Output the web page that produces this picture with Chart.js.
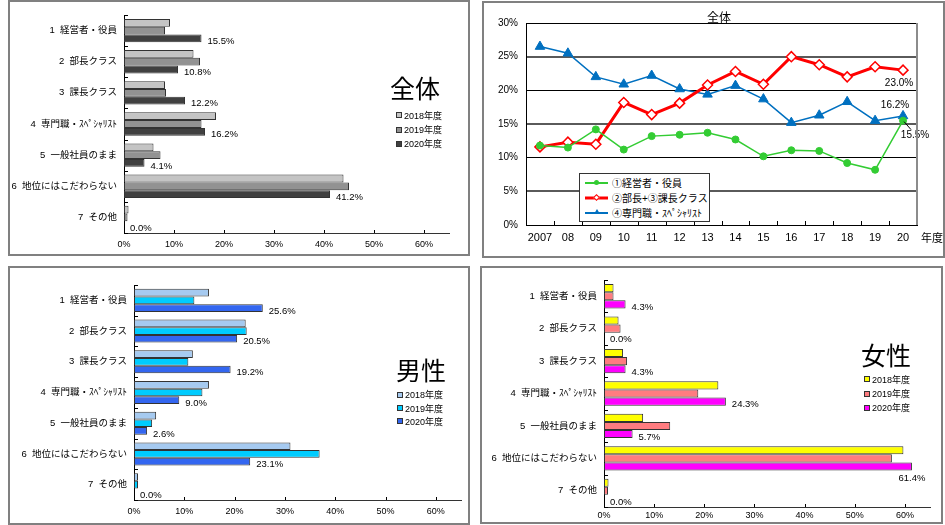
<!DOCTYPE html>
<html lang="ja">
<head>
<meta charset="utf-8">
<title>希望する地位</title>
<script src="https://cdn.jsdelivr.net/npm/chart.js@4/dist/chart.umd.min.js"></script>
<style>
  body { margin: 0; width: 945px; height: 525px; position: relative; overflow: hidden; background: #fff;
         font-family: 'Liberation Sans', 'Noto Sans CJK JP', sans-serif; color: #000; }
  canvas { position: absolute; }
  .panel { position: absolute; border: 2px solid #808080; box-sizing: border-box; }
  .big { position: absolute; font-family: 'Noto Sans CJK JP', sans-serif; font-size: 25px; line-height: 26px; }
  .legend { position: absolute; font-size: 9px; white-space: nowrap; }
  .legend div { display: flex; align-items: center; }
  .legend i { display: inline-block; width: 4px; height: 4px; border: 1px solid #333; margin-right: 2px; }
  .lineTitle { position: absolute; font-family: 'Noto Sans CJK JP', sans-serif; font-size: 12px; line-height: 14px; }
  .lineLegend { position: absolute; left: 579px; top: 173px; width: 131px; height: 49px; box-sizing: border-box;
                border: 1px solid #333; background: #fff; font-size: 10px; padding-top: 1px; white-space: nowrap; }
  .lineLegend div { height: 15px; display: flex; align-items: center; }
  .sample { position: relative; display: inline-block; width: 23px; height: 3px; margin: 0 4px 0 5px; }
  .sample b { position: absolute; left: 0; right: 0; top: 50%; transform: translateY(-50%); }
  .sample em { position: absolute; left: 50%; top: 50%; }
</style>
</head>
<body>
<div class="panel" style="left:8px;top:0;width:462px;height:256px"></div>
<div class="panel" style="left:482px;top:1px;width:463px;height:257px"></div>
<div class="panel" style="left:8px;top:266px;width:462px;height:259px"></div>
<div class="panel" style="left:480px;top:266px;width:463px;height:258px"></div>

<canvas id="allChart" width="470" height="258" style="left:0;top:0"></canvas>
<canvas id="trendChart" width="463" height="258" style="left:482px;top:0"></canvas>
<canvas id="menChart" width="470" height="263" style="left:0;top:262px"></canvas>
<canvas id="womenChart" width="470" height="263" style="left:475px;top:262px"></canvas>

<div class="big" style="left:390px;top:74px">全体</div>
<div class="big" style="left:396px;top:356px">男性</div>
<div class="big" style="left:861px;top:341px">女性</div>
<div class="legend" id="allLegend" style="left:396px;top:108px"></div>
<div class="legend" id="menLegend" style="left:397px;top:388px"></div>
<div class="legend" id="womenLegend" style="left:864px;top:372px"></div>

<div class="lineTitle" style="left:707px;top:10px">全体</div>
<div class="lineTitle" style="left:921px;top:230px;font-size:11px">年度</div>
<div class="lineLegend" id="trendLegend"></div>

<script>
const categories = ['1  経営者・役員', '2  部長クラス', '3  課長クラス', '4  専門職・ｽﾍﾟｼｬﾘｽﾄ',
                    '5  一般社員のまま', '6  地位にはこだわらない', '7  その他'];
const fiscalYears = ['2018年度', '2019年度', '2020年度'];

const allValues2018 = [9.2, 13.9, 8.2, 18.4, 5.9, 43.9, 0.9];
const allValues2019 = [8.2, 15.2, 8.4, 15.5, 7.3, 45.0, 0.7];
const allValues2020 = [15.5, 10.8, 12.2, 16.2, 4.1, 41.2, 0.0];

const menValues2018 = [14.9, 22.2, 11.7, 14.9, 4.4, 31.1, 0.8];
const menValues2019 = [12.0, 22.4, 10.8, 13.6, 3.6, 36.9, 0.8];
const menValues2020 = [25.6, 20.5, 19.2, 9.0, 2.6, 23.1, 0.0];

const womenValues2018 = [1.9, 2.9, 3.8, 22.8, 7.8, 59.7, 0.9];
const womenValues2019 = [1.9, 3.3, 4.6, 18.8, 13.2, 57.4, 0.8];
const womenValues2020 = [4.3, 0.0, 4.3, 24.3, 5.7, 61.4, 0.0];

const trendYears = ['2007', '08', '09', '10', '11', '12', '13', '14', '15', '16', '17', '18', '19', '20'];
const trendNames = ['①経営者・役員', '②部長+③課長クラス', '④専門職・ｽﾍﾟｼｬﾘｽﾄ'];
const execTrend = [11.8, 11.5, 14.2, 11.2, 13.2, 13.4, 13.7, 12.7, 10.2, 11.1, 11.0, 9.2, 8.2, 15.5];
const managerTrend = [11.6, 12.3, 12.0, 18.2, 16.4, 18.1, 20.8, 22.8, 20.9, 25.0, 23.8, 22.0, 23.5, 23.0];
const specialistTrend = [26.5, 25.5, 22.0, 20.9, 22.2, 20.2, 19.4, 20.7, 18.7, 15.2, 16.3, 18.3, 15.5, 16.2];

const grayColors = ['#c4c4c4', '#929292', '#404040'];
const blueColors = ['#a6caf0', '#00ccff', '#3366f0'];
const pinkColors = ['#ffff00', '#ff7c80', '#ff00ff'];

const fontFamily = "'Liberation Sans', 'Noto Sans CJK JP', sans-serif";
Chart.defaults.font.family = fontFamily;
Chart.defaults.color = '#000';
Chart.defaults.animation = false;

// short tick marks drawn on the inside of the axes
const innerTicks = {
  id: 'innerTicks',
  afterDraw(chart, args, opts) {
    const ctx = chart.ctx;
    ctx.save();
    ctx.strokeStyle = '#000';
    ctx.lineWidth = 1;
    ctx.beginPath();
    if (opts.categoryAxis) {
      const s = chart.scales[opts.categoryAxis];
      const n = s.getLabels().length;
      for (let i = 0; i <= n; i++) {
        if (s.isHorizontal()) {
          const x = Math.round(s.left + i * s.width / n) + 0.5;
          ctx.moveTo(x, s.top); ctx.lineTo(x, s.top - 4);
        } else {
          const y = Math.round(s.top + i * s.height / n) + 0.5;
          ctx.moveTo(s.right, y); ctx.lineTo(s.right + 4, y);
        }
      }
    }
    if (opts.valueAxis) {
      const s = chart.scales[opts.valueAxis];
      s.ticks.forEach(t => {
        const x = Math.round(s.getPixelForValue(t.value)) + 0.5;
        ctx.moveTo(x, s.top); ctx.lineTo(x, s.top - 3);
      });
    }
    ctx.stroke();
    ctx.restore();
  }
};

// value labels for the last (2020) series
const lastValueLabels = {
  id: 'lastValueLabels',
  afterDatasetsDraw(chart) {
    const ctx = chart.ctx;
    const idx = chart.data.datasets.length - 1;
    const meta = chart.getDatasetMeta(idx);
    const data = chart.data.datasets[idx].data;
    ctx.save();
    ctx.font = '9.5px ' + fontFamily;
    ctx.fillStyle = '#000';
    ctx.textBaseline = 'middle';
    meta.data.forEach((bar, i) => {
      const text = data[i].toFixed(1) + '%';
      const w = ctx.measureText(text).width;
      if (bar.x + 6 + w > chart.chartArea.right) {
        ctx.textAlign = 'center';
        ctx.fillText(text, bar.x, bar.y + bar.height / 2 + 8);
      } else {
        ctx.textAlign = 'left';
        ctx.fillText(text, bar.x + 6, bar.y + 3);
      }
    });
    ctx.restore();
  }
};

function makeBarChart(id, series, colors, area) {
  const canvas = document.getElementById(id);
  return new Chart(canvas, {
    type: 'bar',
    data: {
      labels: categories,
      datasets: series.map((values, i) => ({
        label: fiscalYears[i],
        data: values,
        backgroundColor: colors[i],
        borderColor: '#333',
        borderWidth: ctx => (ctx.raw === 0 ? 0 : 1),
        borderSkipped: false,
        categoryPercentage: 0.75,
        barPercentage: 1
      }))
    },
    options: {
      indexAxis: 'y',
      responsive: false,
      layout: { padding: { left: 0, top: area.top, right: canvas.width - area.right, bottom: 0 } },
      plugins: {
        legend: { display: false },
        tooltip: { enabled: false },
        innerTicks: { categoryAxis: 'y', valueAxis: 'x' }
      },
      scales: {
        x: {
          min: 0,
          max: 65,
          ticks: { stepSize: 10, padding: area.xPad, font: { size: 9 }, callback: v => v + '%' },
          afterBuildTicks: s => { s.ticks = s.ticks.filter(t => t.value % 10 === 0); },
          grid: { display: false, drawTicks: false },
          border: { display: true, color: '#333', width: 1 },
          afterFit: s => { s.height = canvas.height - area.bottom; }
        },
        y: {
          ticks: { padding: 7, font: { size: 9.5 } },
          grid: { display: false, drawTicks: false },
          border: { display: true, color: '#000', width: 1 },
          afterFit: s => { s.width = area.left; }
        }
      }
    },
    plugins: [innerTicks, lastValueLabels]
  });
}

function fillLegend(id, colors) {
  const box = document.getElementById(id);
  fiscalYears.forEach((name, i) => {
    const row = document.createElement('div');
    row.style.height = (id === 'menLegend' ? 13.4 : 14.4) + 'px';
    row.innerHTML = '<i style="background:' + colors[i] + '"></i>' + name;
    box.appendChild(row);
  });
}

makeBarChart('allChart', [allValues2018, allValues2019, allValues2020], grayColors,
  { left: 124, right: 449, top: 15, bottom: 233, xPad: 6 });
makeBarChart('menChart', [menValues2018, menValues2019, menValues2020], blueColors,
  { left: 134, right: 461, top: 23, bottom: 238, xPad: 6 });
makeBarChart('womenChart', [womenValues2018, womenValues2019, womenValues2020], pinkColors,
  { left: 129, right: 455, top: 18, bottom: 245, xPad: 3 });
fillLegend('allLegend', grayColors);
fillLegend('menLegend', blueColors);
fillLegend('womenLegend', pinkColors);

// ---- trend line chart ----
const trendArea = { left: 44, right: 435, top: 23, bottom: 225 };

const plotFrame = {
  id: 'plotFrame',
  afterDraw(chart) {
    const { ctx, chartArea: a } = chart;
    ctx.save();
    ctx.strokeStyle = '#8c8c8c';
    ctx.lineWidth = 2;
    ctx.beginPath();
    ctx.moveTo(a.right, a.top);
    ctx.lineTo(a.right, a.bottom);
    ctx.stroke();
    ctx.restore();
  }
};

const endLabels = {
  id: 'endLabels',
  afterDatasetsDraw(chart) {
    const ctx = chart.ctx;
    ctx.save();
    ctx.font = '10px ' + fontFamily;
    ctx.fillStyle = '#000';
    ctx.textAlign = 'center';
    ctx.textBaseline = 'middle';
    chart.data.datasets.forEach((ds, i) => {
      const meta = chart.getDatasetMeta(i);
      const pt = meta.data[meta.data.length - 1];
      const v = ds.data[ds.data.length - 1];
      const tx = pt.x + ds.endLabelOffset[0];
      const ty = pt.y + ds.endLabelOffset[1];
      if (ds.endLabelLeader) {
        ctx.strokeStyle = '#000';
        ctx.lineWidth = 1;
        ctx.beginPath();
        ctx.moveTo(pt.x + 1, pt.y + 1);
        ctx.lineTo(tx - 4, ty - 6);
        ctx.stroke();
      }
      ctx.fillText(v.toFixed(1) + '%', tx, ty);
    });
    ctx.restore();
  }
};

const trendCanvas = document.getElementById('trendChart');
new Chart(trendCanvas, {
  type: 'line',
  data: {
    labels: trendYears,
    datasets: [
      {
        label: trendNames[0], data: execTrend,
        borderColor: '#33cc33', backgroundColor: '#33cc33', borderWidth: 1.5,
        pointStyle: 'circle', pointRadius: 3.5, pointBorderWidth: 1,
        endLabelOffset: [12, 15], endLabelLeader: true
      },
      {
        label: trendNames[1], data: managerTrend,
        borderColor: '#ff0000', backgroundColor: '#ffffff', borderWidth: 3,
        pointStyle: 'rectRot', pointRadius: 5, pointBorderWidth: 1.5,
        endLabelOffset: [-4, 13]
      },
      {
        label: trendNames[2], data: specialistTrend,
        borderColor: '#0070c0', backgroundColor: '#0070c0', borderWidth: 1.5,
        pointStyle: 'triangle', pointRadius: 5.5, pointBorderWidth: 1,
        endLabelOffset: [-8, -11]
      }
    ]
  },
  options: {
    responsive: false,
    layout: { padding: { left: 0, top: trendArea.top, right: trendCanvas.width - trendArea.right, bottom: 0 } },
    elements: { line: { tension: 0 } },
    plugins: {
      legend: { display: false },
      tooltip: { enabled: false },
      innerTicks: { categoryAxis: 'x' }
    },
    scales: {
      x: {
        offset: true,
        ticks: { padding: 6, font: { size: 11 }, maxRotation: 0, minRotation: 0, autoSkip: false },
        grid: { display: false, drawTicks: false },
        border: { display: true, color: '#000', width: 1 },
        afterFit: s => { s.height = trendCanvas.height - trendArea.bottom; }
      },
      y: {
        min: 0,
        max: 30,
        ticks: { stepSize: 5, padding: 8, font: { size: 10 }, callback: v => v + '%' },
        grid: {
          drawTicks: false,
          color: ctx => (ctx.tick.value % 10 === 0 ? '#000' : '#5a5a5a'),
          lineWidth: ctx => (ctx.tick.value % 10 === 0 ? 1 : 2)
        },
        border: { display: true, color: '#000', width: 1 },
        afterFit: s => { s.width = trendArea.left; }
      }
    }
  },
  plugins: [innerTicks, plotFrame, endLabels]
});

// legend of the trend chart
const trendStyles = [
  { line: 'height:2px;background:#33cc33', mark: 'width:5px;height:5px;margin:-2.5px 0 0 -2.5px;border-radius:50%;background:#33cc33' },
  { line: 'height:3px;background:#ff0000', mark: 'width:3px;height:3px;margin:-2.5px 0 0 -2.5px;background:#fff;border:1px solid #ff0000;transform:rotate(45deg)' },
  { line: 'height:2px;background:#0070c0', mark: 'width:0;height:0;margin:-4px 0 0 -3px;border-left:3px solid transparent;border-right:3px solid transparent;border-bottom:5px solid #0070c0' }
];
const trendLegend = document.getElementById('trendLegend');
trendNames.forEach((name, i) => {
  const row = document.createElement('div');
  row.innerHTML = '<span class="sample"><b style="' + trendStyles[i].line + '"></b><em style="' +
    trendStyles[i].mark + '"></em></span>' + name;
  trendLegend.appendChild(row);
});
</script>
</body>
</html>
